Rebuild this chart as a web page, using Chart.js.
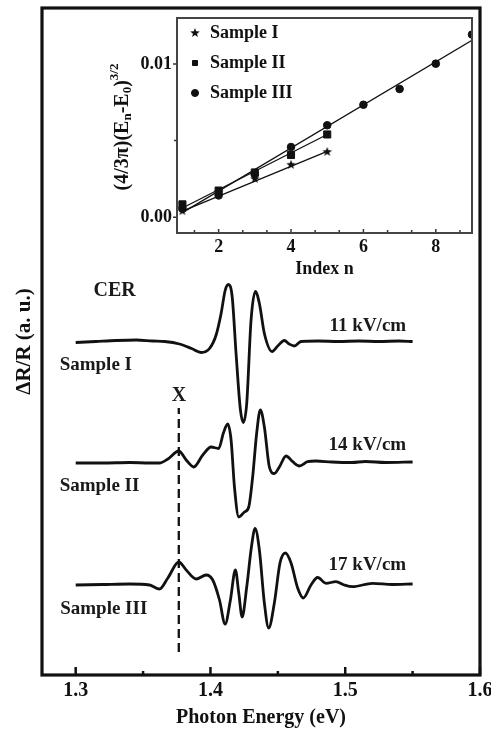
<!DOCTYPE html>
<html>
<head>
<meta charset="utf-8">
<script src="https://cdn.jsdelivr.net/npm/chart.js@4.4.0/dist/chart.umd.min.js"></script>
<style>
  html, body { margin: 0; padding: 0; background: #fff; }
  #wrap { position: relative; width: 491px; height: 731px; }
  #mainChart { position: absolute; left: 0; top: 0; }
  #insetChart { position: absolute; left: 90px; top: 12px; }
</style>
</head>
<body>
<div id="wrap">
  <canvas id="mainChart" width="491" height="731"></canvas>
  <canvas id="insetChart" width="388" height="272"></canvas>
</div>
<script>
// ---- main plot data: CER spectra (photon energy in eV, signal in a.u.) ----
const energyI = [1.300, 1.315, 1.330, 1.345, 1.357, 1.366, 1.377, 1.386, 1.3931, 1.3993, 1.4042, 1.4079, 1.4109, 1.4133, 1.4161, 1.419, 1.4222, 1.4244, 1.4269, 1.4301, 1.4333, 1.4363, 1.440, 1.4457, 1.4499, 1.4548, 1.4585, 1.4622, 1.4672, 1.480, 1.495, 1.510, 1.525, 1.540, 1.550];
const signalI = [-1, 0, 1, 1.5, 0.5, 0, -2.5, -7, -11, -7, 6.5, 28, 51, 57, 45, -12, -68, -81, -62, 21, 50, 38, 8, -10, -4.5, 1, -2.5, -4.5, 0, 0.5, 0, 0.5, 0, 0.5, 0];

const energyII = [1.300, 1.320, 1.340, 1.355, 1.3622, 1.3684, 1.3765, 1.382, 1.3876, 1.3943, 1.4005, 1.4061, 1.4096, 1.4128, 1.4153, 1.4178, 1.421, 1.4252, 1.4284, 1.4313, 1.4343, 1.437, 1.440, 1.4437, 1.4474, 1.4511, 1.4561, 1.461, 1.4659, 1.4721, 1.4783, 1.490, 1.505, 1.515, 1.530, 1.550];
const signalII = [0, 0, 0.5, 0, 0, 4, 12, 3, -4, 8, 16, 14.5, 30, 39, 23, -24, -54, -49, -44, -14, 30, 53, 36, -4, -10.5, -4, 7, 1.3, -3, 1.3, 2, 1, 0.5, 1.5, 0.5, 1];

const energyIII = [1.300, 1.320, 1.340, 1.3548, 1.3622, 1.3684, 1.3765, 1.382, 1.3894, 1.3968, 1.4017, 1.4067, 1.4109, 1.4148, 1.4185, 1.421, 1.4235, 1.4269, 1.4304, 1.4331, 1.4363, 1.440, 1.4432, 1.4474, 1.4516, 1.4556, 1.4598, 1.4647, 1.4689, 1.4746, 1.4795, 1.4857, 1.4931, 1.4993, 1.5054, 1.5202, 1.535, 1.550];
const signalIII = [0, 0.5, 1, 0, -4, 7, 23, 15, 6, 10, 5, -15, -39, -15, 15, -8, -32, -2, 38, 56.5, 35, -18, -43, -18, 22, 32, 22, -3, -13, 0, 7.5, 1.7, 3.3, 0, -1.7, 1.7, 0.5, 1];

// vertical offsets of the stacked curves
const offsetI = 333.5;
const offsetII = 212;
const offsetIII = 90;

// dashed marker of feature X
const markerX = [1.3765, 1.3765];
const markerY = [23, 267];

const xTicks = [1.3, 1.4, 1.5, 1.6];
const xMinorTicks = [1.35, 1.45, 1.55];

const sampleNames = ['Sample I', 'Sample II', 'Sample III'];
const fieldLabels = ['11 kV/cm', '14 kV/cm', '17 kV/cm'];

// ---- inset data ----
const indexN = [1, 2, 3, 4, 5, 6, 7, 8, 9];
const valuesI = [0.0004, 0.00163, 0.0025, 0.00342, 0.00426];
const valuesII = [0.00084, 0.00174, 0.00292, 0.00406, 0.0054];
const valuesIII = [0.00056, 0.00142, 0.0028, 0.00458, 0.006, 0.00734, 0.00837, 0.01002, 0.01192];
// straight fits drawn through each sample
const fitXI = [1, 5], fitYI = [0.0004, 0.0043];
const fitXII = [1, 5], fitYII = [0.0006, 0.0054];
const fitXIII = [1, 9], fitYIII = [0.0003, 0.01155];

const insetXTicks = [2, 4, 6, 8];
const insetXMinor = [1.333, 2.667, 3.333, 4.667, 5.333, 6.667, 7.333, 8.667];
const insetYTicks = [0, 0.01];
const insetYMinor = [0.005];

const ink = '#111';
const serif = "'Liberation Serif', 'Times New Roman', serif";
const font = (size) => ({ family: serif, size: size, weight: 'bold' });

const toPoints = (xs, ys, off = 0) => xs.map((x, i) => ({ x: x, y: ys[i] + off }));

// tick marks (inward / outward) and frame around the plot area
const tickMarks = {
  id: 'tickMarks',
  afterDraw(chart, args, opts) {
    const { ctx, chartArea: a, scales } = chart;
    ctx.save();
    ctx.strokeStyle = opts.color;
    ctx.lineWidth = opts.width;
    ctx.beginPath();
    if (opts.x) {
      const t = opts.x;
      t.major.concat(t.minor).forEach((v, i) => {
        const len = i < t.major.length ? t.majorLen : t.minorLen;
        const px = scales.x.getPixelForValue(v);
        ctx.moveTo(px, a.bottom);
        ctx.lineTo(px, a.bottom + t.dir * len);
      });
    }
    if (opts.y) {
      const t = opts.y;
      t.major.concat(t.minor).forEach((v, i) => {
        const len = i < t.major.length ? t.majorLen : t.minorLen;
        const py = scales.y.getPixelForValue(v);
        ctx.moveTo(a.left, py);
        ctx.lineTo(a.left + t.dir * len, py);
      });
    }
    ctx.stroke();
    ctx.lineWidth = opts.frameWidth;
    ctx.strokeStyle = opts.frameColor;
    ctx.strokeRect(a.left, a.top, a.right - a.left, a.bottom - a.top);
    ctx.restore();
  }
};

// text labels placed in data coordinates
const textLabels = {
  id: 'textLabels',
  afterDatasetsDraw(chart, args, opts) {
    const { ctx, scales } = chart;
    ctx.save();
    ctx.fillStyle = opts.color;
    ctx.textBaseline = 'middle';
    opts.items.forEach(it => {
      ctx.font = `bold ${it.size}px ${serif}`;
      ctx.textAlign = it.align;
      ctx.fillText(it.text, scales.x.getPixelForValue(it.x), scales.y.getPixelForValue(it.y));
    });
    ctx.restore();
  }
};

// rotated axis title with sub- and superscripts
const richTitle = {
  id: 'richTitle',
  afterDraw(chart, args, opts) {
    const ctx = chart.ctx;
    ctx.save();
    ctx.fillStyle = opts.color;
    ctx.textBaseline = 'middle';
    ctx.textAlign = 'left';
    const fonts = p => `bold ${p.small ? opts.smallSize : opts.size}px ${serif}`;
    let total = 0;
    opts.pieces.forEach(p => { ctx.font = fonts(p); total += ctx.measureText(p.t).width; });
    ctx.translate(opts.x, opts.y);
    ctx.rotate(-Math.PI / 2);
    let cx = -total / 2;
    opts.pieces.forEach(p => {
      ctx.font = fonts(p);
      ctx.fillText(p.t, cx, p.dy || 0);
      cx += ctx.measureText(p.t).width;
    });
    ctx.restore();
  }
};

const makeStar = (r) => {
  const c = document.createElement('canvas');
  c.width = c.height = Math.ceil(r * 2 + 2);
  const g = c.getContext('2d');
  g.fillStyle = ink;
  g.beginPath();
  for (let i = 0; i < 10; i++) {
    const rad = i % 2 ? r * 0.42 : r;
    const ang = -Math.PI / 2 + i * Math.PI / 5;
    g.lineTo(c.width / 2 + rad * Math.cos(ang), c.height / 2 + rad * Math.sin(ang));
  }
  g.closePath();
  g.fill();
  return c;
};
const star = makeStar(5);

const curve = (data) => ({
  data: data,
  borderColor: ink,
  borderWidth: 2.8,
  pointRadius: 0,
  fill: false,
  cubicInterpolationMode: 'monotone'
});

new Chart(document.getElementById('mainChart'), {
  type: 'line',
  data: {
    datasets: [
      curve(toPoints(energyI, signalI, offsetI)),
      curve(toPoints(energyII, signalII, offsetII)),
      curve(toPoints(energyIII, signalIII, offsetIII)),
      { data: toPoints(markerX, markerY), borderColor: ink, borderWidth: 2.3, borderDash: [9, 5], pointRadius: 0 }
    ]
  },
  options: {
    responsive: false,
    animation: false,
    events: [],
    layout: { padding: { top: 8, right: 11, left: 0, bottom: 0 } },
    scales: {
      x: {
        type: 'linear', min: 1.275, max: 1.6,
        afterBuildTicks: s => { s.ticks = xTicks.map(v => ({ value: v })); },
        afterFit: s => { s.height = 56; s.paddingLeft = 0; s.paddingRight = 0; },
        grid: { display: false, drawTicks: false },
        border: { display: false },
        ticks: { padding: 4, color: ink, font: font(20), maxRotation: 0, autoSkip: false, callback: v => v.toFixed(1) },
        title: { display: true, text: 'Photon Energy (eV)', color: ink, font: font(20), padding: { top: 0, bottom: 1 } }
      },
      y: {
        min: 0, max: 667,
        afterFit: s => { s.width = 42; },
        grid: { display: false, drawTicks: false },
        border: { display: false },
        ticks: { display: false },
        title: { display: true, text: 'ΔR/R (a. u.)', color: ink, font: font(21), padding: { top: 12, bottom: 0 } }
      }
    },
    plugins: {
      legend: { display: false },
      tooltip: { enabled: false },
      tickMarks: {
        color: ink, width: 2.5, frameWidth: 3.2, frameColor: ink,
        x: { major: xTicks, minor: xMinorTicks, majorLen: 8, minorLen: 4, dir: -1 }
      },
      textLabels: {
        color: '#1a1a1a',
        items: [
          { text: 'CER', x: 1.3289, y: 384, align: 'center', size: 20 },
          { text: sampleNames[0], x: 1.2881, y: 310, align: 'left', size: 19 },
          { text: sampleNames[1], x: 1.2881, y: 188.5, align: 'left', size: 19 },
          { text: sampleNames[2], x: 1.2885, y: 65.5, align: 'left', size: 19 },
          { text: fieldLabels[0], x: 1.5452, y: 348.5, align: 'right', size: 19 },
          { text: fieldLabels[1], x: 1.5452, y: 230, align: 'right', size: 19 },
          { text: fieldLabels[2], x: 1.5452, y: 110.3, align: 'right', size: 19 },
          { text: 'X', x: 1.3767, y: 279, align: 'center', size: 20 }
        ]
      }
    }
  },
  plugins: [tickMarks, textLabels]
});

const fitLine = (xs, ys) => ({
  data: toPoints(xs, ys),
  showLine: true,
  borderColor: ink,
  borderWidth: 1.3,
  pointRadius: 0
});

new Chart(document.getElementById('insetChart'), {
  type: 'scatter',
  data: {
    datasets: [
      { label: sampleNames[0], data: toPoints(indexN.slice(0, 5), valuesI), pointStyle: star, backgroundColor: ink, borderColor: ink },
      { label: sampleNames[1], data: toPoints(indexN.slice(0, 5), valuesII), pointStyle: 'rect', pointRadius: 5, backgroundColor: ink, borderColor: ink },
      { label: sampleNames[2], data: toPoints(indexN, valuesIII), pointStyle: 'circle', pointRadius: 3.8, backgroundColor: ink, borderColor: ink },
      fitLine(fitXI, fitYI),
      fitLine(fitXII, fitYII),
      fitLine(fitXIII, fitYIII)
    ]
  },
  options: {
    responsive: false,
    animation: false,
    events: [],
    layout: { padding: { top: 3, right: 5, left: 0, bottom: 0 } },
    scales: {
      x: {
        type: 'linear', min: 0.85, max: 9.0,
        afterBuildTicks: s => { s.ticks = insetXTicks.map(v => ({ value: v })); },
        afterFit: s => { s.height = 51; s.paddingLeft = 0; s.paddingRight = 0; },
        grid: { display: false, drawTicks: false },
        border: { display: false },
        ticks: { padding: 4, color: ink, font: font(18), maxRotation: 0, autoSkip: false },
        title: { display: true, text: 'Index n', color: ink, font: font(18), padding: { top: 0, bottom: 4 } }
      },
      y: {
        min: -0.00103, max: 0.0130,
        afterBuildTicks: s => { s.ticks = insetYTicks.map(v => ({ value: v })); },
        afterFit: s => { s.width = 87; s.paddingTop = 0; s.paddingBottom = 0; },
        grid: { display: false, drawTicks: false },
        border: { display: false },
        ticks: { padding: 5, color: ink, font: font(18), callback: v => v.toFixed(2) }
      }
    },
    plugins: {
      tooltip: { enabled: false },
      legend: {
        position: 'chartArea',
        align: 'start',
        labels: {
          usePointStyle: true,
          boxWidth: 12,
          boxHeight: 5,
          padding: 12,
          color: ink,
          font: font(18),
          filter: item => item.datasetIndex < 3
        }
      },
      tickMarks: {
        color: '#333', width: 1.5, frameWidth: 2, frameColor: '#444',
        x: { major: insetXTicks, minor: insetXMinor, majorLen: 4, minorLen: 3, dir: -1 },
        y: { major: insetYTicks, minor: insetYMinor, majorLen: 4, minorLen: 3, dir: -1 }
      },
      richTitle: {
        x: 33, y: 115, size: 20, smallSize: 13, color: ink,
        pieces: [
          { t: '(4/3π)(E' },
          { t: 'n', small: true, dy: 5 },
          { t: '-E' },
          { t: '0', small: true, dy: 5 },
          { t: ')' },
          { t: '3/2', small: true, dy: -8 }
        ]
      }
    }
  },
  plugins: [tickMarks, richTitle]
});
</script>
</body>
</html>
